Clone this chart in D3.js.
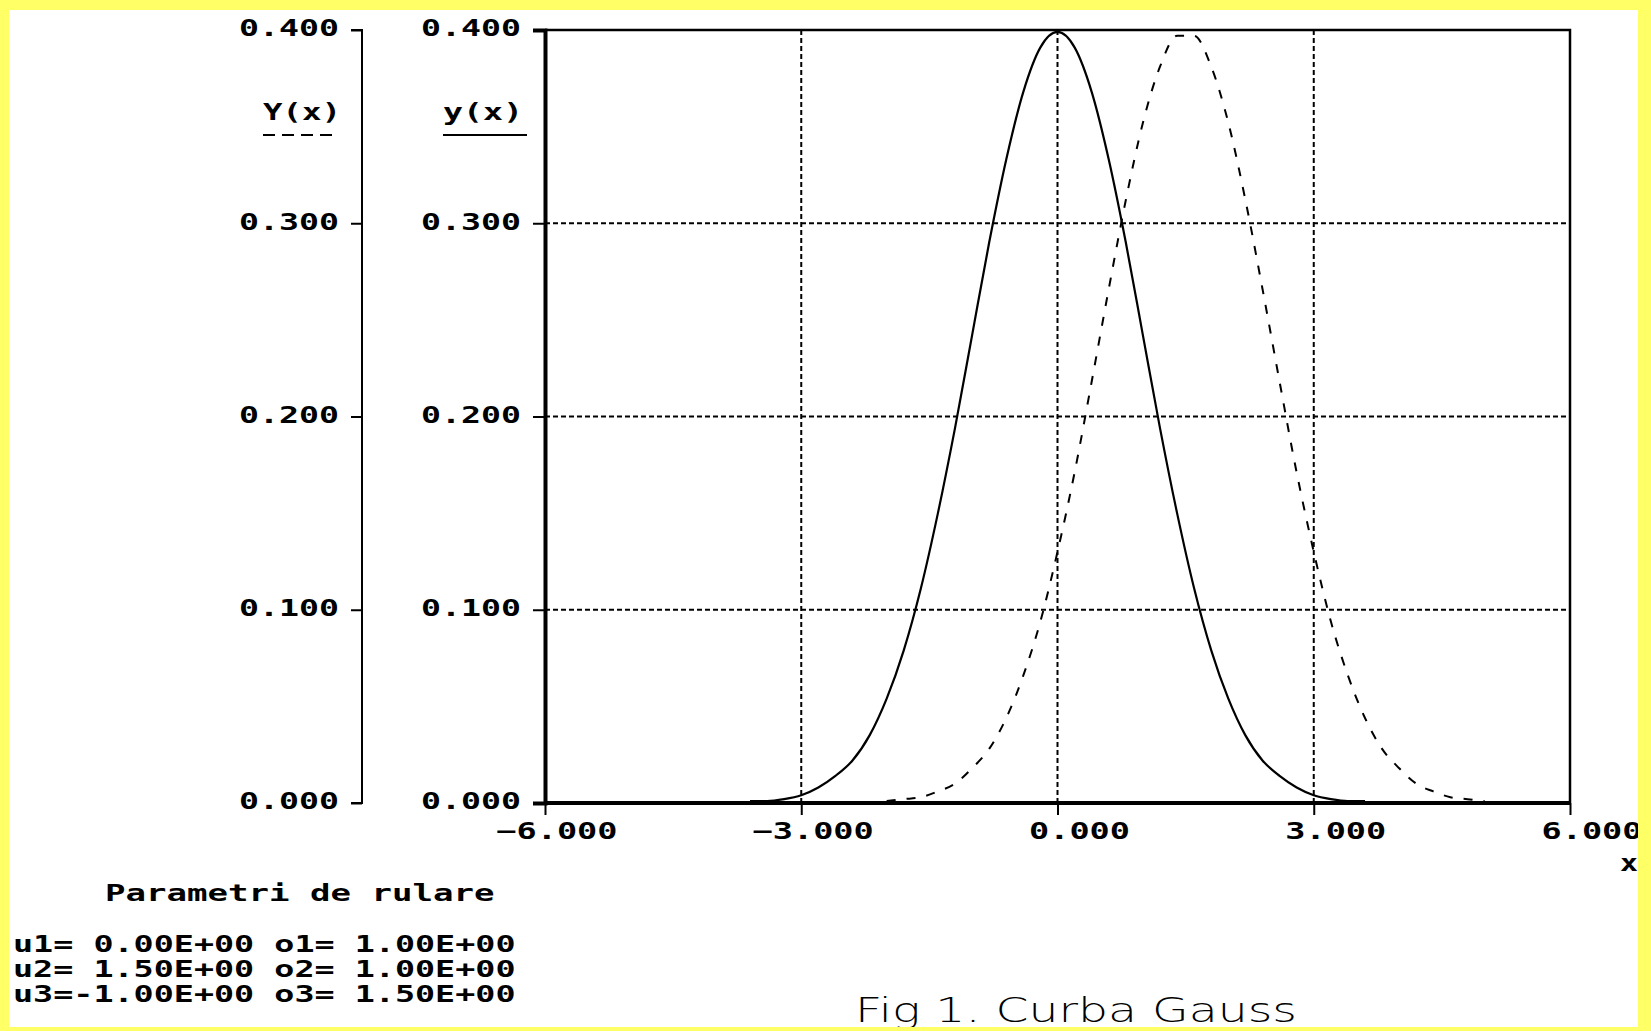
<!DOCTYPE html>
<html>
<head>
<meta charset="utf-8">
<script src="https://cdn.jsdelivr.net/npm/d3@7"></script>
<style>
  html, body { margin: 0; padding: 0; background: #ffff66; }
  svg { display: block; }
  .bold { font-family: 'DejaVu Sans Mono', monospace; font-weight: bold; font-size: 23px; fill: #000; }
</style>
</head>
<body>
<div id="chart"></div>
<script>
// solid curve y(x)
const solidX = [-3.6, -3.4, -3.2, -3.0, -2.8, -2.6, -2.4, -2.2, -2.0, -1.8, -1.6, -1.4, -1.2, -1.0, -0.8, -0.6, -0.4, -0.2, 0.0,
  0.2, 0.4, 0.6, 0.8, 1.0, 1.2, 1.4, 1.6, 1.8, 2.0, 2.2, 2.4, 2.6, 2.8, 3.0, 3.2, 3.4, 3.6]
const solidY = [0.001, 0.001, 0.002, 0.004, 0.008, 0.014, 0.022, 0.035, 0.054, 0.079, 0.111, 0.150, 0.194, 0.242, 0.290, 0.333, 0.368, 0.391, 0.399,
  0.391, 0.368, 0.333, 0.290, 0.242, 0.194, 0.150, 0.111, 0.079, 0.054, 0.035, 0.022, 0.014, 0.008, 0.004, 0.002, 0.001, 0.001]

// dashed curve Y(x)
const dashX = [-2.0, -1.8, -1.6, -1.4, -1.2, -1.0, -0.8, -0.6, -0.4, -0.2, 0.0, 0.2, 0.4, 0.6, 0.8, 1.0, 1.2, 1.4, 1.6,
  1.8, 2.0, 2.2, 2.4, 2.6, 2.8, 3.0, 3.2, 3.4, 3.6, 3.8, 4.0, 4.2, 4.4, 4.6, 4.8, 5.0]
const dashY = [0.001, 0.002, 0.003, 0.006, 0.010, 0.018, 0.028, 0.044, 0.066, 0.094, 0.130, 0.171, 0.218, 0.266, 0.312, 0.352, 0.381, 0.397, 0.397,
  0.381, 0.352, 0.312, 0.266, 0.218, 0.171, 0.130, 0.094, 0.066, 0.044, 0.028, 0.018, 0.010, 0.006, 0.003, 0.002, 0.001]

const xTicks = [-6, -3, 0, 3, 6]
const yTicks = [0, 0.1, 0.2, 0.3, 0.4]
const xGrid = [-3, 0, 3]
const yGrid = [0.1, 0.2, 0.3]

const paramTitle = 'Parametri de rulare'
const paramRows = [
  'u1= 0.00E+00 o1= 1.00E+00',
  'u2= 1.50E+00 o2= 1.00E+00',
  'u3=-1.00E+00 o3= 1.50E+00'
]
const figTitle = 'Fig 1. Curba Gauss'

const W = 1651
const H = 1031
const plot = { left: 545, right: 1570, top: 30, bottom: 803 }

const svg = d3
  .select('#chart')
  .append('svg')
  .attr('width', W)
  .attr('height', H)

// yellow border with white sheet
svg.append('rect').attr('width', W).attr('height', H).attr('fill', '#ffff66')
svg
  .append('rect')
  .attr('x', 9)
  .attr('y', 10)
  .attr('width', 1638 - 9)
  .attr('height', 1027 - 10)
  .attr('fill', '#fff')

const x = d3.scaleLinear().domain([-6, 6]).range([plot.left, plot.right])
const y = d3.scaleLinear().domain([0, 0.4]).range([plot.bottom, plot.top])
const fmt = d3.format('.3f')

// wide pixel-font look: stretch every label to a fixed cell width per char
const charW = 20
function stretch(sel, w) {
  sel
    .attr('textLength', function() { return this.textContent.length * w })
    .attr('lengthAdjust', 'spacingAndGlyphs')
}

// dotted grid
svg
  .append('g')
  .selectAll('line')
  .data(xGrid)
  .join('line')
  .attr('x1', d => x(d))
  .attr('x2', d => x(d))
  .attr('y1', plot.top)
  .attr('y2', plot.bottom)
  .attr('stroke', '#000')
  .attr('stroke-width', 2)
  .attr('stroke-dasharray', '5,3')

svg
  .append('g')
  .selectAll('line')
  .data(yGrid)
  .join('line')
  .attr('x1', plot.left)
  .attr('x2', plot.right)
  .attr('y1', d => y(d))
  .attr('y2', d => y(d))
  .attr('stroke', '#000')
  .attr('stroke-width', 2)
  .attr('stroke-dasharray', '5,3')

// curves
const line = d3
  .line()
  .x(d => x(d[0]))
  .y(d => y(d[1]))
  .curve(d3.curveMonotoneX)

svg
  .append('path')
  .datum(dashX.map((v, i) => [v, dashY[i]]))
  .attr('d', line)
  .attr('fill', 'none')
  .attr('stroke', '#000')
  .attr('stroke-width', 2)
  .attr('stroke-dasharray', '9,11')

svg
  .append('path')
  .datum(solidX.map((v, i) => [v, solidY[i]]))
  .attr('d', line)
  .attr('fill', 'none')
  .attr('stroke', '#000')
  .attr('stroke-width', 2.2)

// frame top and right
svg
  .append('path')
  .attr('d', `M${plot.left},${plot.top}H${plot.right}V${plot.bottom}`)
  .attr('fill', 'none')
  .attr('stroke', '#000')
  .attr('stroke-width', 2.5)

// main y axis
const yAxis = svg
  .append('g')
  .attr('transform', `translate(${plot.left},0)`)
  .call(d3.axisLeft(y).tickValues(yTicks).tickSize(12).tickPadding(12).tickFormat(fmt))
yAxis.select('.domain').attr('stroke-width', 4)
yAxis.selectAll('.tick line').attr('stroke-width', 2)
yAxis.selectAll('text').attr('class', 'bold').attr('font-size', null).attr('font-family', null).attr('dy', '0.25em')
  .call(stretch, charW)

// secondary Y(x) axis
const y2Axis = svg
  .append('g')
  .attr('transform', 'translate(362,0)')
  .call(d3.axisLeft(y).tickValues(yTicks).tickSize(11).tickPadding(12).tickFormat(fmt))
y2Axis.select('.domain').attr('stroke-width', 2).attr('d', `M-11,${y(0.4)}H0V${y(0)}H-11`)
y2Axis.selectAll('.tick line').attr('stroke-width', 2)
y2Axis.selectAll('text').attr('class', 'bold').attr('font-size', null).attr('font-family', null).attr('dy', '0.25em')
  .call(stretch, charW)

// x axis
const xAxis = svg
  .append('g')
  .attr('transform', `translate(0,${plot.bottom})`)
  .call(d3.axisBottom(x).tickValues(xTicks).tickSize(12).tickFormat(fmt))
xAxis.select('.domain').attr('stroke-width', 4).attr('d', `M${plot.left},0H${plot.right}`)
xAxis.selectAll('.tick line').attr('stroke-width', 2)
xAxis.selectAll('text')
  .attr('class', 'bold')
  .attr('font-size', null)
  .attr('font-family', null)
  .attr('text-anchor', 'end')
  .attr('x', 72)
  .attr('y', 28)
  .attr('dy', '0.35em')
  .call(stretch, 20.2)

svg.append('text').attr('class', 'bold').attr('x', 1620).attr('y', 871).text('x').call(stretch, 18)

// curve legends
svg.append('text').attr('class', 'bold').attr('x', 263).attr('y', 120).text('Y(x)').call(stretch, 19.5)
svg
  .append('line')
  .attr('x1', 263).attr('x2', 339).attr('y1', 135).attr('y2', 135)
  .attr('stroke', '#000').attr('stroke-width', 2).attr('stroke-dasharray', '12,7')
svg.append('text').attr('class', 'bold').attr('x', 443).attr('y', 120).text('y(x)').call(stretch, 20)
svg
  .append('line')
  .attr('x1', 443).attr('x2', 527).attr('y1', 135).attr('y2', 135)
  .attr('stroke', '#000').attr('stroke-width', 2)

// run parameters
svg.append('text').attr('class', 'bold').attr('x', 105).attr('y', 901).text(paramTitle).call(stretch, 20.5)
svg
  .append('g')
  .selectAll('text')
  .data(paramRows)
  .join('text')
  .attr('class', 'bold')
  .attr('x', 13)
  .attr('y', (d, i) => 952 + i * 25)
  .text(d => d)
  .call(stretch, 20.1)

// figure caption
svg
  .append('text')
  .attr('x', 855)
  .attr('y', 1022)
  .attr('font-family', 'DejaVu Sans')
  .attr('font-weight', 200)
  .attr('font-size', 34)
  .attr('textLength', 442)
  .attr('lengthAdjust', 'spacingAndGlyphs')
  .text(figTitle)

// yellow border drawn over anything that runs into it
svg.append('rect').attr('x', 0).attr('y', 1027).attr('width', W).attr('height', 4).attr('fill', '#ffff66')
svg.append('rect').attr('x', 1638).attr('y', 0).attr('width', 13).attr('height', H).attr('fill', '#ffff66')
</script>
</body>
</html>
